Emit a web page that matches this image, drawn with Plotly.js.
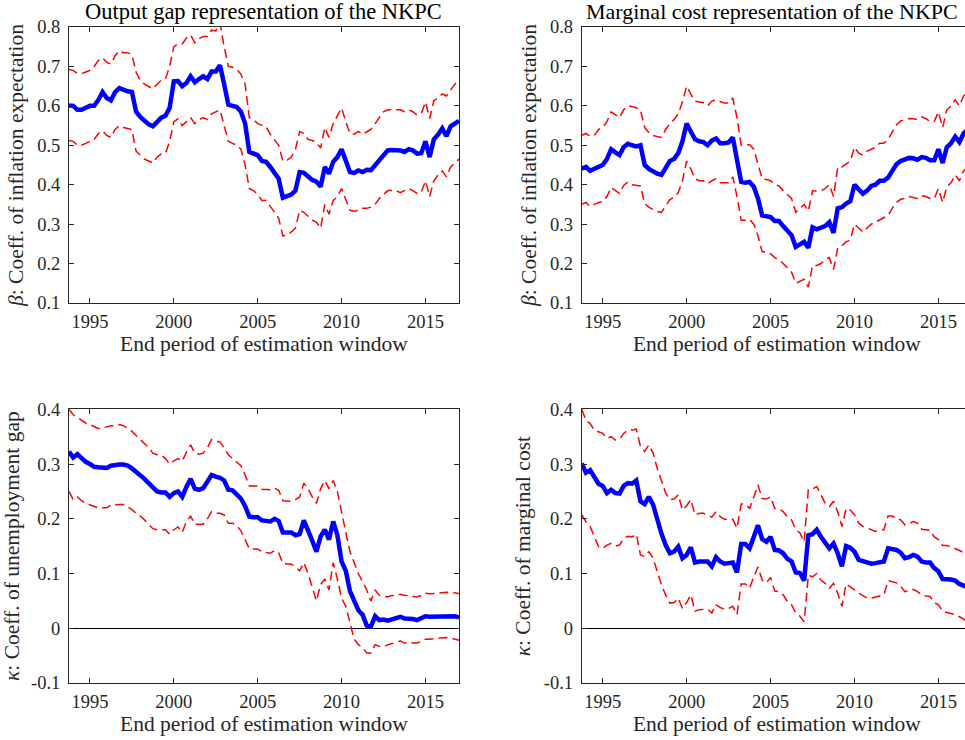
<!DOCTYPE html>
<html>
<head>
<meta charset="utf-8">
<script src="https://cdn.plot.ly/plotly-3.0.1.min.js"></script>
<style>
  html, body { margin: 0; padding: 0; overflow: hidden; background: #fff; }
  #plot { width: 972px; height: 740px; }
</style>
</head>
<body>
<div id="plot"></div>
<script>
// quarterly end periods of the rolling estimation window, 1993Q4 .. 2017Q1
var startPeriod = 1993.75, endPeriod = 2017.0;
var periods = [];
for (var q = startPeriod; q <= endPeriod + 1e-9; q += 0.25) periods.push(q);

// ---- output gap NKPC: beta ----
var gapBeta = [0.601,
  0.600, 0.590, 0.590, 0.595,   // 1994
  0.600, 0.600, 0.615, 0.635,   // 1995
  0.620, 0.614, 0.635, 0.645,   // 1996
  0.640, 0.637, 0.635, 0.585,   // 1997
  0.572, 0.562, 0.553, 0.548,   // 1998
  0.560, 0.570, 0.575, 0.595,   // 1999
  0.662, 0.663, 0.650, 0.658,   // 2000
  0.675, 0.660, 0.668, 0.675,   // 2001
  0.668, 0.687, 0.687, 0.703,   // 2002
  0.655, 0.603, 0.600, 0.597,   // 2003
  0.585, 0.555, 0.483, 0.480,   // 2004
  0.475, 0.460, 0.458, 0.445,   // 2005
  0.430, 0.415, 0.367, 0.372,   // 2006
  0.375, 0.385, 0.432, 0.430,   // 2007
  0.422, 0.412, 0.408, 0.395,   // 2008
  0.445, 0.428, 0.458, 0.470,   // 2009
  0.490, 0.460, 0.432, 0.430,   // 2010
  0.436, 0.432, 0.438, 0.437,   // 2011
  0.450, 0.462, 0.472, 0.487,   // 2012
  0.488, 0.488, 0.487, 0.483,   // 2013
  0.490, 0.487, 0.479, 0.480,   // 2014
  0.510, 0.470, 0.515, 0.527,   // 2015
  0.543, 0.523, 0.548, 0.555,   // 2016
  0.562];
var gapBetaUp = [0.692,
  0.690, 0.682, 0.682, 0.686,
  0.690, 0.700, 0.715, 0.722,
  0.710, 0.706, 0.727, 0.740,
  0.735, 0.735, 0.730, 0.685,
  0.665, 0.655, 0.648, 0.643,
  0.655, 0.665, 0.668, 0.700,
  0.750, 0.757, 0.757, 0.772,
  0.780, 0.760, 0.770, 0.776,
  0.776, 0.792, 0.790, 0.810,
  0.750, 0.700, 0.698, 0.693,
  0.680, 0.655, 0.570, 0.565,
  0.555, 0.550, 0.547, 0.528,
  0.515, 0.500, 0.460, 0.462,
  0.470, 0.490, 0.535, 0.530,
  0.515, 0.512, 0.507, 0.493,
  0.545, 0.520, 0.555, 0.575,
  0.595, 0.560, 0.530, 0.528,
  0.535, 0.528, 0.533, 0.540,
  0.555, 0.570, 0.585, 0.590,
  0.590, 0.590, 0.590, 0.585,
  0.590, 0.585, 0.577, 0.580,
  0.610, 0.568, 0.613, 0.620,
  0.630, 0.625, 0.640, 0.655,
  0.665];
var gapBetaLo = [0.512,
  0.510, 0.500, 0.500, 0.505,
  0.510, 0.515, 0.530, 0.537,
  0.525, 0.520, 0.540, 0.550,
  0.545, 0.542, 0.540, 0.485,
  0.475, 0.465, 0.460, 0.455,
  0.470, 0.478, 0.480, 0.510,
  0.560, 0.567, 0.550, 0.560,
  0.570, 0.555, 0.565, 0.570,
  0.565, 0.580, 0.585, 0.590,
  0.550, 0.510, 0.505, 0.500,
  0.490, 0.450, 0.390, 0.385,
  0.375, 0.360, 0.360, 0.345,
  0.330, 0.315, 0.270, 0.272,
  0.280, 0.290, 0.335, 0.330,
  0.320, 0.310, 0.305, 0.290,
  0.350, 0.325, 0.360, 0.370,
  0.390, 0.360, 0.335, 0.333,
  0.335, 0.340, 0.340, 0.343,
  0.350, 0.365, 0.375, 0.385,
  0.385, 0.385, 0.380, 0.385,
  0.390, 0.385, 0.378, 0.380,
  0.410, 0.370, 0.410, 0.425,
  0.435, 0.420, 0.445, 0.455,
  0.465];

// ---- marginal cost NKPC: beta ----
var mcBeta = [0.441,
  0.445, 0.435, 0.440, 0.448,   // 1994
  0.450, 0.465, 0.490, 0.482,   // 1995
  0.475, 0.495, 0.504, 0.500,   // 1996
  0.497, 0.500, 0.450, 0.440,   // 1997
  0.433, 0.428, 0.425, 0.445,   // 1998
  0.460, 0.465, 0.480, 0.510,   // 1999
  0.555, 0.535, 0.515, 0.510,   // 2000
  0.508, 0.500, 0.512, 0.517,   // 2001
  0.505, 0.505, 0.507, 0.520,   // 2002
  0.465, 0.407, 0.405, 0.407,   // 2003
  0.395, 0.365, 0.322, 0.320,   // 2004
  0.318, 0.308, 0.308, 0.295,   // 2005
  0.282, 0.272, 0.242, 0.250,   // 2006
  0.255, 0.240, 0.292, 0.287,   // 2007
  0.290, 0.295, 0.305, 0.278,   // 2008
  0.340, 0.343, 0.352, 0.358,   // 2009
  0.400, 0.388, 0.377, 0.385,   // 2010
  0.397, 0.400, 0.410, 0.410,   // 2011
  0.418, 0.435, 0.452, 0.460,   // 2012
  0.465, 0.468, 0.467, 0.463,   // 2013
  0.470, 0.468, 0.462, 0.462,   // 2014
  0.490, 0.455, 0.495, 0.505,   // 2015
  0.522, 0.508, 0.530, 0.540,   // 2016
  0.545];
var mcBetaUp = [0.525,
  0.530, 0.523, 0.525, 0.540,
  0.545, 0.560, 0.585, 0.578,
  0.570, 0.590, 0.600, 0.598,
  0.595, 0.590, 0.545, 0.532,
  0.525, 0.522, 0.520, 0.540,
  0.555, 0.565, 0.580, 0.610,
  0.650, 0.630, 0.612, 0.610,
  0.608, 0.600, 0.612, 0.615,
  0.610, 0.607, 0.607, 0.620,
  0.570, 0.500, 0.500, 0.502,
  0.490, 0.455, 0.415, 0.413,
  0.410, 0.400, 0.397, 0.385,
  0.375, 0.365, 0.330, 0.340,
  0.350, 0.333, 0.385, 0.383,
  0.385, 0.390, 0.400, 0.370,
  0.445, 0.445, 0.452, 0.460,
  0.495, 0.480, 0.475, 0.485,
  0.490, 0.495, 0.505, 0.505,
  0.515, 0.535, 0.552, 0.562,
  0.565, 0.568, 0.567, 0.565,
  0.572, 0.568, 0.560, 0.560,
  0.585, 0.545, 0.590, 0.600,
  0.615, 0.600, 0.625, 0.635,
  0.640];
var mcBetaLo = [0.350,
  0.355, 0.345, 0.350, 0.355,
  0.357, 0.370, 0.393, 0.385,
  0.378, 0.398, 0.407, 0.400,
  0.398, 0.397, 0.352, 0.343,
  0.337, 0.332, 0.330, 0.347,
  0.362, 0.368, 0.380, 0.410,
  0.460, 0.440, 0.415, 0.410,
  0.410, 0.402, 0.410, 0.415,
  0.405, 0.405, 0.405, 0.420,
  0.370, 0.310, 0.310, 0.312,
  0.300, 0.270, 0.230, 0.230,
  0.225, 0.215, 0.210, 0.200,
  0.190, 0.178, 0.150, 0.155,
  0.160, 0.140, 0.195, 0.195,
  0.200, 0.210, 0.215, 0.185,
  0.240, 0.245, 0.255, 0.260,
  0.300, 0.290, 0.280, 0.290,
  0.300, 0.305, 0.310, 0.315,
  0.322, 0.340, 0.355, 0.363,
  0.365, 0.370, 0.368, 0.365,
  0.372, 0.370, 0.365, 0.365,
  0.390, 0.355, 0.395, 0.405,
  0.425, 0.410, 0.435, 0.445,
  0.450];

// ---- output gap NKPC: kappa (unemployment gap) ----
var gapKappa = [0.323,
  0.312, 0.318, 0.310, 0.304,   // 1994
  0.300, 0.295, 0.294, 0.294,   // 1995
  0.293, 0.297, 0.299, 0.299,   // 1996
  0.299, 0.297, 0.292, 0.286,   // 1997
  0.280, 0.273, 0.265, 0.257,   // 1998
  0.250, 0.248, 0.248, 0.240,   // 1999
  0.247, 0.250, 0.240, 0.258,   // 2000
  0.273, 0.255, 0.253, 0.256,   // 2001
  0.268, 0.280, 0.277, 0.275,   // 2002
  0.270, 0.253, 0.252, 0.245,   // 2003
  0.237, 0.223, 0.204, 0.203,   // 2004
  0.203, 0.197, 0.196, 0.195,   // 2005
  0.200, 0.196, 0.175, 0.176,   // 2006
  0.175, 0.170, 0.172, 0.197,   // 2007
  0.180, 0.160, 0.140, 0.168,   // 2008
  0.180, 0.162, 0.195, 0.170,   // 2009
  0.122, 0.105, 0.068, 0.048,   // 2010
  0.033, 0.025, 0.005, 0.003,   // 2011
  0.022, 0.015, 0.016, 0.014,   // 2012
  0.016, 0.018, 0.021, 0.018,   // 2013
  0.018, 0.017, 0.015, 0.018,   // 2014
  0.022, 0.021, 0.021, 0.022,   // 2015
  0.023, 0.023, 0.022, 0.022,   // 2016
  0.020];
var gapKappaUp = [0.400,
  0.390, 0.385, 0.380, 0.375,
  0.372, 0.368, 0.365, 0.366,
  0.368, 0.370, 0.370, 0.372,
  0.370, 0.365, 0.360, 0.352,
  0.345, 0.338, 0.330, 0.320,
  0.317, 0.316, 0.310, 0.300,
  0.306, 0.310, 0.305, 0.322,
  0.335, 0.320, 0.318, 0.320,
  0.330, 0.345, 0.342, 0.340,
  0.330, 0.317, 0.310, 0.303,
  0.297, 0.280, 0.260, 0.260,
  0.260, 0.254, 0.253, 0.253,
  0.256, 0.252, 0.233, 0.233,
  0.232, 0.235, 0.240, 0.265,
  0.255, 0.240, 0.228, 0.255,
  0.270, 0.255, 0.270, 0.250,
  0.210, 0.175, 0.140, 0.118,
  0.100, 0.085, 0.070, 0.050,
  0.070, 0.060, 0.058, 0.057,
  0.060, 0.060, 0.062, 0.060,
  0.060, 0.058, 0.057, 0.060,
  0.064, 0.063, 0.063, 0.064,
  0.065, 0.066, 0.065, 0.065,
  0.063];
var gapKappaLo = [0.250,
  0.235, 0.240, 0.233, 0.228,
  0.225, 0.222, 0.220, 0.220,
  0.220, 0.225, 0.226, 0.226,
  0.226, 0.222, 0.217, 0.210,
  0.205, 0.198, 0.190, 0.182,
  0.180, 0.180, 0.180, 0.172,
  0.180, 0.185, 0.175, 0.195,
  0.205, 0.190, 0.190, 0.190,
  0.200, 0.213, 0.210, 0.210,
  0.207, 0.192, 0.192, 0.187,
  0.178, 0.163, 0.145, 0.145,
  0.145, 0.140, 0.138, 0.137,
  0.142, 0.138, 0.118, 0.118,
  0.117, 0.112, 0.105, 0.120,
  0.100, 0.075, 0.050, 0.080,
  0.090, 0.070, 0.120, 0.090,
  0.055, 0.040, 0.010, -0.020,
  -0.030, -0.035, -0.045, -0.045,
  -0.030, -0.033, -0.033, -0.030,
  -0.028, -0.027, -0.023, -0.027,
  -0.026, -0.027, -0.027, -0.024,
  -0.020, -0.020, -0.019, -0.018,
  -0.018, -0.017, -0.018, -0.020,
  -0.022];

// ---- marginal cost NKPC: kappa ----
var mcKappa = [0.301,
  0.284, 0.289, 0.277, 0.264,   // 1994
  0.260, 0.247, 0.253, 0.247,   // 1995
  0.246, 0.260, 0.265, 0.264,   // 1996
  0.270, 0.232, 0.227, 0.240,   // 1997
  0.226, 0.198, 0.173, 0.152,   // 1998
  0.137, 0.140, 0.149, 0.128,   // 1999
  0.134, 0.148, 0.120, 0.122,   // 2000
  0.122, 0.122, 0.113, 0.130,   // 2001
  0.122, 0.118, 0.119, 0.120,   // 2002
  0.102, 0.154, 0.154, 0.146,   // 2003
  0.167, 0.188, 0.163, 0.158,   // 2004
  0.167, 0.143, 0.142, 0.137,   // 2005
  0.127, 0.122, 0.102, 0.101,   // 2006
  0.087, 0.170, 0.172, 0.180,   // 2007
  0.167, 0.155, 0.146, 0.155,   // 2008
  0.137, 0.113, 0.150, 0.147,   // 2009
  0.140, 0.125, 0.122, 0.119,   // 2010
  0.118, 0.119, 0.120, 0.122,   // 2011
  0.146, 0.145, 0.143, 0.138,   // 2012
  0.128, 0.130, 0.134, 0.131,   // 2013
  0.122, 0.120, 0.120, 0.110,   // 2014
  0.104, 0.090, 0.090, 0.089,   // 2015
  0.087, 0.081, 0.078, 0.073,   // 2016
  0.070];
var mcKappaUp = [0.400,
  0.380, 0.374, 0.362, 0.359,
  0.356, 0.347, 0.350, 0.344,
  0.345, 0.356, 0.362, 0.362,
  0.364, 0.332, 0.323, 0.335,
  0.320, 0.292, 0.268, 0.247,
  0.235, 0.236, 0.244, 0.216,
  0.224, 0.235, 0.207, 0.210,
  0.210, 0.207, 0.203, 0.213,
  0.204, 0.199, 0.199, 0.199,
  0.183, 0.227, 0.227, 0.219,
  0.240, 0.262, 0.237, 0.236,
  0.240, 0.219, 0.218, 0.213,
  0.204, 0.198, 0.180, 0.174,
  0.158, 0.253, 0.254, 0.259,
  0.244, 0.228, 0.222, 0.232,
  0.213, 0.186, 0.219, 0.216,
  0.207, 0.192, 0.186, 0.183,
  0.179, 0.177, 0.179, 0.180,
  0.205, 0.205, 0.201, 0.198,
  0.189, 0.191, 0.195, 0.192,
  0.181, 0.180, 0.179, 0.167,
  0.162, 0.151, 0.151, 0.149,
  0.146, 0.142, 0.138, 0.136,
  0.133];
var mcKappaLo = [0.207,
  0.195, 0.186, 0.167, 0.149,
  0.146, 0.152, 0.155, 0.150,
  0.152, 0.164, 0.168, 0.167,
  0.172, 0.134, 0.131, 0.140,
  0.128, 0.104, 0.079, 0.061,
  0.046, 0.047, 0.055, 0.036,
  0.047, 0.061, 0.031, 0.034,
  0.034, 0.035, 0.028, 0.043,
  0.038, 0.035, 0.036, 0.040,
  0.025, 0.081, 0.081, 0.073,
  0.094, 0.112, 0.088, 0.083,
  0.093, 0.068, 0.067, 0.061,
  0.049, 0.043, 0.028, 0.022,
  0.012, 0.097, 0.094, 0.100,
  0.088, 0.082, 0.073, 0.082,
  0.064, 0.040, 0.081, 0.076,
  0.070, 0.064, 0.059, 0.055,
  0.055, 0.057, 0.058, 0.061,
  0.087, 0.085, 0.083, 0.077,
  0.067, 0.069, 0.071, 0.067,
  0.061, 0.059, 0.058, 0.047,
  0.043, 0.031, 0.029, 0.028,
  0.025, 0.021, 0.017, 0.012,
  0.008];

var yearTicks = [1995, 2000, 2005, 2010, 2015];
var betaTicks = [0.1, 0.2, 0.3, 0.4, 0.5, 0.6, 0.7, 0.8];
var betaTickText = ['0.1', '0.2', '0.3', '0.4', '0.5', '0.6', '0.7', '0.8'];
var kappaTicks = [-0.1, 0, 0.1, 0.2, 0.3, 0.4];
var kappaTickText = ['-0.1', '0', '0.1', '0.2', '0.3', '0.4'];

var panelTitles = ['Output gap representation of the NKPC', 'Marginal cost representation of the NKPC'];
var yTitles = ['<i>β</i>: Coeff. of inflation expectation', '<i>β</i>: Coeff. of inflation expectation',
               '<i>κ</i>: Coeff. of unemployment gap', '<i>κ</i>: Coeff. of marginal cost'];
var xTitle = 'End period of estimation window';

var FONT = '"Liberation Serif", "Times New Roman", serif';
var INK = '#262626';

function panel(n, mid, up, lo) {
  var sfx = n == 1 ? '' : String(n);
  var dashed = {color: '#ff0000', width: 1.5, dash: '9px,5px'};
  return [
    {x: periods, y: up, xaxis: 'x' + sfx, yaxis: 'y' + sfx, mode: 'lines', line: dashed},
    {x: periods, y: lo, xaxis: 'x' + sfx, yaxis: 'y' + sfx, mode: 'lines', line: dashed},
    {x: periods, y: mid, xaxis: 'x' + sfx, yaxis: 'y' + sfx, mode: 'lines',
     line: {color: '#0000ff', width: 4.5}}
  ];
}

var data = [].concat(
  panel(1, gapBeta, gapBetaUp, gapBetaLo),
  panel(2, mcBeta, mcBetaUp, mcBetaLo),
  panel(3, gapKappa, gapKappaUp, gapKappaLo),
  panel(4, mcKappa, mcKappaUp, mcKappaLo)
);

function xax(dom, anchor) {
  return {
    domain: dom, anchor: anchor, range: [startPeriod, endPeriod],
    tickvals: yearTicks, ticktext: yearTicks.map(String),
    ticks: 'inside', ticklen: 5, tickcolor: INK, mirror: 'allticks',
    showline: true, linecolor: INK, linewidth: 1,
    showgrid: false, zeroline: false,
    tickfont: {family: FONT, size: 18.5, color: INK},
    ticklabelstandoff: 2,
    title: {text: xTitle, font: {family: FONT, size: 21.5, color: INK}, standoff: 2}
  };
}
function yax(dom, anchor, kappa, title) {
  return {
    domain: dom, anchor: anchor,
    range: kappa ? [-0.1, 0.4] : [0.1, 0.8],
    tickvals: kappa ? kappaTicks : betaTicks,
    ticktext: kappa ? kappaTickText : betaTickText,
    ticks: 'inside', ticklen: 5, tickcolor: INK, mirror: 'allticks',
    showline: true, linecolor: INK, linewidth: 1,
    showgrid: false,
    zeroline: kappa, zerolinecolor: '#000000', zerolinewidth: 1,
    tickfont: {family: FONT, size: 18.5, color: INK},
    ticklabelstandoff: 4,
    title: {text: title, font: {family: FONT, size: 21.5, color: INK}, standoff: 7}
  };
}

var leftDom = [0, 0.4319], rightDom = [0.5678, 1];
var topDom = [0.5793, 1], botDom = [0, 0.4172];

var layout = {
  width: 972, height: 740,
  margin: {l: 69, r: 0, t: 27, b: 57},
  paper_bgcolor: '#ffffff', plot_bgcolor: '#ffffff',
  showlegend: false, hovermode: false,
  font: {family: FONT, color: INK},
  xaxis: xax(leftDom, 'y'), yaxis: yax(topDom, 'x', false, yTitles[0]),
  xaxis2: xax(rightDom, 'y2'), yaxis2: yax(topDom, 'x2', false, yTitles[1]),
  xaxis3: xax(leftDom, 'y3'), yaxis3: yax(botDom, 'x3', true, yTitles[2]),
  xaxis4: xax(rightDom, 'y4'), yaxis4: yax(botDom, 'x4', true, yTitles[3]),
  annotations: [
    {text: panelTitles[0], xref: 'paper', yref: 'paper', x: 0.2159, y: 1.0229,
     xanchor: 'center', yanchor: 'middle', showarrow: false,
     font: {family: FONT, size: 22.5, color: '#000000'}},
    {text: panelTitles[1], xref: 'paper', yref: 'paper', x: 0.7782, y: 1.0229,
     xanchor: 'center', yanchor: 'middle', showarrow: false,
     font: {family: FONT, size: 22, color: '#000000'}}
  ]
};

Plotly.newPlot('plot', data, layout, {displayModeBar: false, staticPlot: true});
</script>
</body>
</html>
